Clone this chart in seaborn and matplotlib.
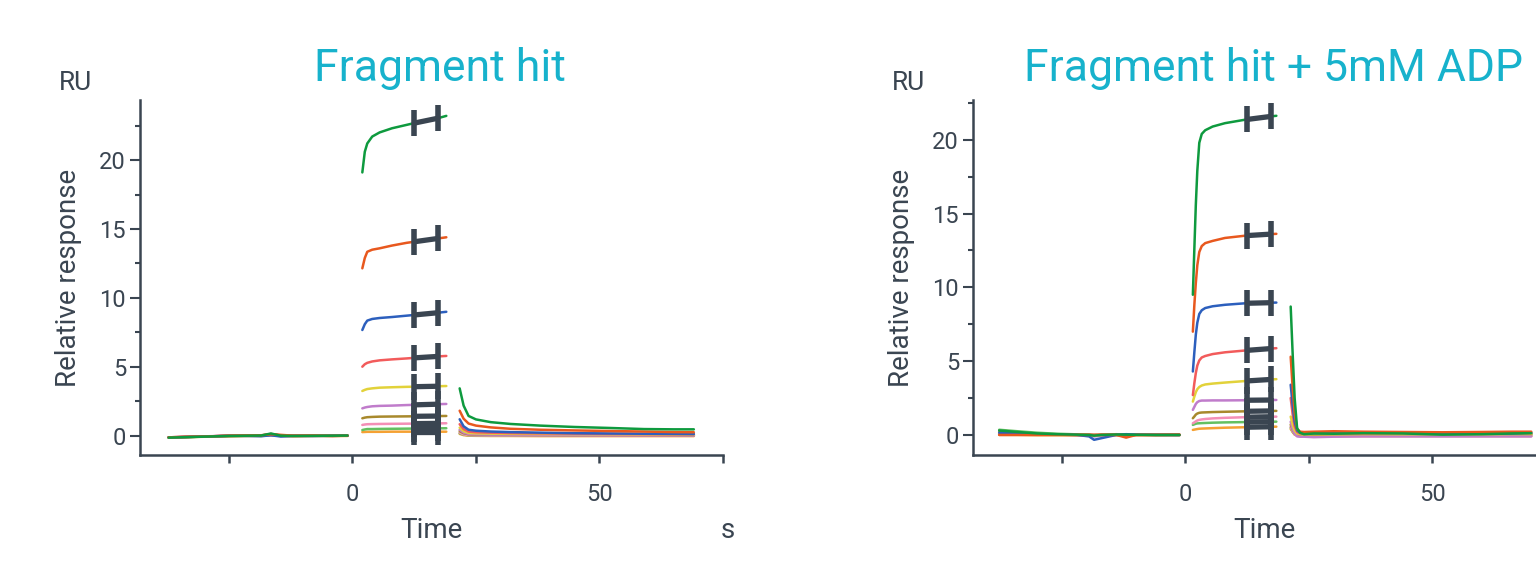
import numpy as np
import pandas as pd
import matplotlib
matplotlib.use("Agg")
import matplotlib.pyplot as plt
from matplotlib.ticker import FixedLocator
import seaborn as sns

# ---------------------------------------------------------------- data
samples = ["Sample 1", "Sample 2", "Sample 3", "Sample 4", "Sample 5",
           "Sample 6", "Sample 7", "Sample 8", "Sample 9", "Sample 10"]
palette = ["#f5a133", "#64c060", "#f48fb6", "#a8892c", "#c07ccb",
           "#e2d23a", "#f25b5b", "#2c5fbd", "#e8581e", "#0e9a3e"]

titles = ["Fragment hit", "Fragment hit + 5mM ADP"]

# report-point window (s)
report_window = [12.4, 17.3]

# --- Fragment hit
base_t_a = [-37.2, -33, -29, -25, -21, -18.5, -16.5, -14.5, -12, -8, -4, -1]
base_a = [
    [-0.10, -0.08, -0.05, -0.02, 0.00, 0.00, 0.05, 0.00, -0.02, 0.00, 0.00, 0.00],
    [-0.12, -0.07, -0.04, 0.00, 0.01, 0.02, 0.08, 0.01, 0.00, 0.01, 0.01, 0.02],
    [-0.10, -0.06, -0.03, 0.01, 0.02, 0.02, 0.10, 0.02, 0.00, 0.01, 0.02, 0.02],
    [-0.11, -0.07, -0.03, 0.00, 0.02, 0.03, 0.12, 0.03, 0.01, 0.02, 0.02, 0.02],
    [-0.10, -0.06, -0.02, 0.01, 0.02, 0.02, 0.06, 0.00, 0.00, 0.01, 0.02, 0.03],
    [-0.12, -0.07, -0.04, 0.00, 0.01, 0.02, 0.09, 0.02, 0.00, 0.01, 0.01, 0.02],
    [-0.10, -0.06, -0.03, 0.01, 0.03, 0.04, 0.14, 0.05, 0.01, 0.02, 0.01, 0.02],
    [-0.11, -0.07, -0.03, 0.01, 0.00, -0.02, 0.05, -0.04, 0.01, 0.00, 0.01, 0.02],
    [-0.10, -0.06, -0.03, 0.02, 0.04, 0.05, 0.12, 0.08, 0.02, 0.03, 0.00, 0.02],
    [-0.12, -0.08, -0.04, 0.00, 0.02, 0.03, 0.18, 0.02, 0.00, 0.01, 0.02, 0.03],
]
assoc_t_a = [2.0, 2.5, 3.0, 4.0, 5.5, 8, 11, 14, 17, 19]
assoc_a = [
    [0.28, 0.29, 0.30, 0.30, 0.30, 0.31, 0.31, 0.31, 0.31, 0.31],
    [0.43, 0.47, 0.50, 0.50, 0.51, 0.52, 0.53, 0.54, 0.55, 0.56],
    [0.80, 0.83, 0.85, 0.86, 0.87, 0.88, 0.89, 0.90, 0.91, 0.92],
    [1.28, 1.33, 1.36, 1.38, 1.40, 1.41, 1.42, 1.43, 1.44, 1.45],
    [2.00, 2.06, 2.10, 2.15, 2.18, 2.20, 2.24, 2.27, 2.30, 2.32],
    [3.26, 3.34, 3.40, 3.45, 3.50, 3.53, 3.56, 3.58, 3.60, 3.62],
    [5.02, 5.20, 5.30, 5.40, 5.48, 5.55, 5.62, 5.70, 5.76, 5.80],
    [7.68, 8.10, 8.36, 8.48, 8.55, 8.62, 8.72, 8.82, 8.92, 9.00],
    [12.15, 12.90, 13.35, 13.50, 13.60, 13.80, 14.00, 14.15, 14.30, 14.40],
    [19.10, 20.60, 21.20, 21.70, 22.00, 22.30, 22.55, 22.80, 23.00, 23.20],
]
dissoc_t_a = [21.7, 22.5, 23.5, 25, 28, 32, 38, 45, 52, 59, 65, 69.1]
dissoc_a = [
    [0.15, 0.06, 0.02, 0.01, 0.00, 0.00, -0.01, -0.01, -0.01, -0.01, -0.01, -0.01],
    [0.20, 0.10, 0.05, 0.04, 0.03, 0.03, 0.02, 0.02, 0.02, 0.02, 0.02, 0.02],
    [0.25, 0.12, 0.06, 0.05, 0.04, 0.04, 0.03, 0.03, 0.02, 0.02, 0.02, 0.02],
    [0.35, 0.20, 0.12, 0.10, 0.09, 0.08, 0.07, 0.06, 0.06, 0.05, 0.05, 0.05],
    [0.45, 0.25, 0.15, 0.12, 0.10, 0.09, 0.08, 0.07, 0.06, 0.05, 0.05, 0.05],
    [0.60, 0.35, 0.22, 0.19, 0.17, 0.15, 0.14, 0.13, 0.12, 0.11, 0.10, 0.10],
    [0.85, 0.50, 0.32, 0.27, 0.24, 0.21, 0.19, 0.17, 0.15, 0.14, 0.13, 0.13],
    [1.21, 0.70, 0.45, 0.38, 0.32, 0.28, 0.24, 0.20, 0.18, 0.16, 0.15, 0.14],
    [1.83, 1.25, 0.90, 0.75, 0.62, 0.52, 0.45, 0.40, 0.36, 0.32, 0.28, 0.27],
    [3.45, 2.20, 1.45, 1.20, 1.00, 0.87, 0.75, 0.65, 0.58, 0.50, 0.48, 0.48],
]

# --- Fragment hit + 5mM ADP
base_t_b = [-37.7, -34, -30, -26, -22, -19.5, -18.5, -17, -14, -12, -10, -6, -1.2]
base_b = [
    [0.00, 0.00, -0.02, -0.02, -0.03, -0.03, -0.05, -0.03, -0.02, -0.05, -0.03, -0.02, -0.03],
    [0.35, 0.25, 0.15, 0.08, 0.04, 0.02, 0.00, 0.02, 0.03, 0.02, 0.02, 0.01, 0.00],
    [0.10, 0.06, 0.04, 0.02, 0.02, 0.00, -0.05, 0.00, 0.05, 0.02, 0.02, 0.01, 0.00],
    [0.20, 0.12, 0.06, 0.03, 0.02, 0.00, -0.05, 0.00, 0.02, 0.00, 0.02, 0.00, 0.00],
    [0.05, 0.03, 0.02, 0.02, 0.00, -0.05, -0.10, -0.05, 0.00, -0.02, 0.00, 0.00, -0.02],
    [0.10, 0.05, 0.03, 0.02, 0.01, 0.00, -0.03, 0.00, 0.02, 0.00, 0.02, 0.00, 0.00],
    [0.05, 0.04, 0.03, 0.02, 0.01, 0.02, 0.00, 0.02, 0.03, -0.05, 0.02, 0.02, 0.02],
    [0.15, 0.10, 0.05, 0.02, 0.00, -0.10, -0.33, -0.22, 0.00, 0.05, 0.02, 0.00, 0.00],
    [0.00, 0.00, 0.00, 0.00, 0.00, 0.00, 0.00, 0.00, 0.00, -0.18, 0.00, 0.00, 0.02],
    [0.30, 0.20, 0.10, 0.05, 0.02, 0.00, -0.05, 0.00, 0.03, 0.02, 0.01, 0.00, 0.00],
]
assoc_t_b = [1.5, 1.8, 2.1, 2.4, 2.8, 3.3, 4.0, 5.5, 8, 12, 15, 18.4]
assoc_b = [
    [0.34, 0.36, 0.38, 0.40, 0.42, 0.43, 0.44, 0.46, 0.49, 0.52, 0.54, 0.56],
    [0.68, 0.72, 0.76, 0.78, 0.79, 0.80, 0.81, 0.83, 0.85, 0.87, 0.89, 0.90],
    [0.79, 0.85, 0.92, 0.98, 1.02, 1.05, 1.08, 1.12, 1.16, 1.20, 1.22, 1.24],
    [1.13, 1.25, 1.38, 1.45, 1.50, 1.52, 1.53, 1.55, 1.57, 1.60, 1.62, 1.63],
    [1.70, 1.90, 2.10, 2.22, 2.30, 2.33, 2.33, 2.34, 2.34, 2.35, 2.36, 2.37],
    [2.26, 2.60, 2.90, 3.10, 3.25, 3.35, 3.42, 3.48, 3.55, 3.65, 3.72, 3.78],
    [2.70, 3.50, 4.20, 4.70, 5.05, 5.25, 5.35, 5.48, 5.60, 5.72, 5.80, 5.88],
    [4.30, 5.60, 6.80, 7.60, 8.20, 8.45, 8.60, 8.72, 8.82, 8.92, 8.95, 8.97],
    [7.00, 8.80, 10.30, 11.50, 12.40, 12.80, 13.00, 13.15, 13.35, 13.50, 13.57, 13.63],
    [9.50, 12.60, 15.60, 17.90, 19.80, 20.40, 20.65, 20.90, 21.13, 21.36, 21.50, 21.63],
]
dissoc_t_b = [21.3, 21.7, 22.1, 22.6, 23.2, 24, 26, 30, 36, 44, 52, 60, 66, 70]
dissoc_b = [
    [0.40, 0.20, 0.02, -0.05, -0.08, -0.08, -0.08, -0.08, -0.08, -0.08, -0.08, -0.08, -0.08, -0.08],
    [0.50, 0.22, 0.05, 0.00, 0.00, 0.02, 0.02, 0.00, 0.02, 0.02, 0.00, 0.02, 0.02, 0.02],
    [0.55, 0.25, 0.05, -0.05, -0.05, -0.05, -0.05, -0.05, -0.05, -0.05, -0.05, -0.05, -0.05, -0.05],
    [0.70, 0.35, 0.10, 0.00, -0.02, 0.00, 0.00, 0.02, 0.02, 0.00, 0.00, 0.00, 0.02, 0.02],
    [0.90, 0.40, 0.10, -0.10, -0.12, -0.12, -0.15, -0.12, -0.10, -0.10, -0.10, -0.10, -0.10, -0.10],
    [1.24, 0.70, 0.30, 0.10, 0.05, 0.05, 0.05, 0.05, 0.06, 0.05, 0.05, 0.05, 0.06, 0.06],
    [2.50, 1.40, 0.60, 0.20, 0.10, 0.10, 0.12, 0.10, 0.10, 0.12, 0.10, 0.10, 0.12, 0.12],
    [3.40, 2.00, 0.90, 0.30, 0.15, 0.10, 0.12, 0.15, 0.18, 0.15, 0.10, 0.08, 0.10, 0.15],
    [5.30, 3.20, 1.50, 0.40, 0.22, 0.20, 0.22, 0.25, 0.22, 0.20, 0.18, 0.20, 0.22, 0.22],
    [8.70, 5.50, 2.50, 0.45, 0.15, 0.05, 0.10, 0.08, 0.12, 0.10, 0.02, 0.05, 0.10, 0.12],
]

panels = [
    dict(phases=[(base_t_a, base_a), (assoc_t_a, assoc_a), (dissoc_t_a, dissoc_a)],
         ylim=(-1.38, 24.35)),
    dict(phases=[(base_t_b, base_b), (assoc_t_b, assoc_b), (dissoc_t_b, dissoc_b)],
         ylim=(-1.36, 22.7)),
]

# ---------------------------------------------------------------- style
sns.set_theme(style="white")
plt.rcParams["font.family"] = ["Roboto", "DejaVu Sans"]

ink = "#3a4551"
title_color = "#17b2cc"

W, H = 1536, 576
fig = plt.figure(figsize=(W / 100, H / 100), dpi=100)


def px_axes(left, top, right, bottom):
    return fig.add_axes([left / W, 1 - bottom / H, (right - left) / W, (bottom - top) / H])


axes = [px_axes(140, 100, 723, 455), px_axes(973, 100, 1556, 455)]

for i, (ax, panel, title) in enumerate(zip(axes, panels, titles)):
    rows = []
    for phase_idx, (times, values) in enumerate(panel["phases"]):
        for name, vals in zip(samples, values):
            for t, v in zip(times, vals):
                rows.append((name, phase_idx, t, v))
    df = pd.DataFrame(rows, columns=["sample", "phase", "time", "response"])

    sns.lineplot(data=df, x="time", y="response", hue="sample", hue_order=samples,
                 units="phase", estimator=None, sort=False, palette=palette,
                 linewidth=1.8, legend=False, ax=ax)

    # report-point markers on the association phase
    assoc_times, assoc_vals = panel["phases"][1]
    for vals in assoc_vals:
        y_pts = np.interp(report_window, assoc_times, vals)
        ax.plot(report_window, y_pts, color=ink, lw=3.8, marker="|", ms=19,
                mew=4.0, solid_capstyle="butt", zorder=5)

    ax.set_xlim(-43, 75)
    ax.set_ylim(*panel["ylim"])

    ax.xaxis.set_major_locator(FixedLocator([0, 50]))
    ax.xaxis.set_minor_locator(FixedLocator([-25, 25, 75]))
    ax.yaxis.set_major_locator(FixedLocator([0, 5, 10, 15, 20]))
    ax.yaxis.set_minor_locator(FixedLocator([2.5, 7.5, 12.5, 17.5, 22.5]))

    ax.tick_params(axis="x", which="both", direction="out", length=6, width=1.8,
                   color=ink, labelcolor=ink, labelsize=17, pad=14, bottom=True)
    ax.tick_params(axis="y", which="major", direction="out", length=7, width=1.5,
                   color=ink, labelcolor=ink, labelsize=17, pad=3, left=True)
    ax.tick_params(axis="y", which="minor", direction="out", length=3.6, width=1.5,
                   color=ink, left=True)

    sns.despine(ax=ax)
    for side in ("left", "bottom"):
        ax.spines[side].set_color(ink)
        ax.spines[side].set_linewidth(1.8)

    ax.set_xlabel("Time", fontsize=20, color=ink, va="baseline")
    ax.xaxis.set_label_coords(0.5, -0.233)
    ax.set_ylabel("Relative response", fontsize=20, color=ink)
    ax.yaxis.set_label_coords(-0.10, 0.5)

    if i == 0:
        ax.text(1.009, -0.233, "s", transform=ax.transAxes, ha="center",
                va="baseline", fontsize=20, color=ink)
    ax.text(-0.11, 1.048, "RU", transform=ax.transAxes, ha="center", va="center",
            fontsize=19, color=ink)
    ax.text(0.515, 1.09, title, transform=ax.transAxes, ha="center", va="center",
            fontsize=32, color=title_color)

fig.savefig("out.png", dpi=100)
